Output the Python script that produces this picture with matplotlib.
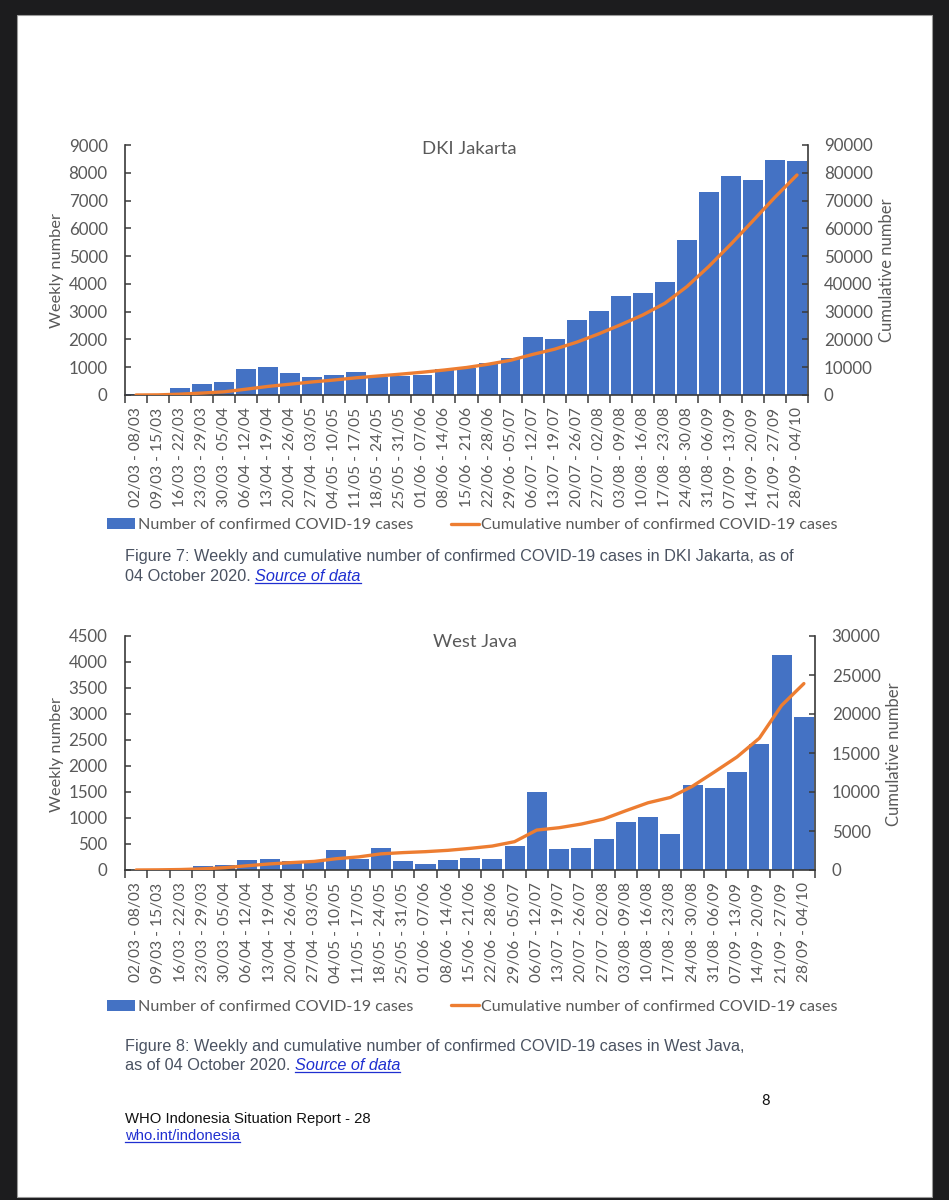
import numpy as np
import matplotlib
matplotlib.use("Agg")
import matplotlib.pyplot as plt
from matplotlib.patches import Rectangle
from matplotlib.lines import Line2D

# ---------------- data ----------------
weeks = ["02/03 - 08/03", "09/03 - 15/03", "16/03 - 22/03", "23/03 - 29/03", "30/03 - 05/04",
         "06/04 - 12/04", "13/04 - 19/04", "20/04 - 26/04", "27/04 - 03/05", "04/05 - 10/05",
         "11/05 - 17/05", "18/05 - 24/05", "25/05 - 31/05", "01/06 - 07/06", "08/06 - 14/06",
         "15/06 - 21/06", "22/06 - 28/06", "29/06 - 05/07", "06/07 - 12/07", "13/07 - 19/07",
         "20/07 - 26/07", "27/07 - 02/08", "03/08 - 09/08", "10/08 - 16/08", "17/08 - 23/08",
         "24/08 - 30/08", "31/08 - 06/09", "07/09 - 13/09", "14/09 - 20/09", "21/09 - 27/09",
         "28/09 - 04/10"]

jakarta_weekly = [20, 30, 240, 390, 450, 930, 1010, 800, 650, 720, 820, 650, 690, 710, 920,
                  970, 1160, 1320, 2090, 2020, 2700, 3010, 3570, 3660, 4060, 5570, 7290, 7880,
                  7730, 8470, 8410]
jakarta_cum = [0, 50, 300, 700, 1150, 2100, 3100, 3900, 4700, 5400, 6200, 6850, 7500, 8200,
               9000, 9900, 11100, 12500, 14600, 16500, 19000, 22000, 25300, 28800, 33000,
               39000, 46300, 54300, 62700, 71200, 79200]

wjava_weekly = [0, 5, 15, 77, 103, 194, 219, 180, 180, 380, 206, 432, 170, 110, 186, 230,
                218, 461, 1492, 403, 423, 589, 922, 1024, 685, 1632, 1581, 1876, 2430, 4130, 2945]
wjava_cum = [0, 20, 60, 150, 300, 550, 780, 950, 1100, 1450, 1680, 2070, 2230, 2350, 2520,
             2770, 3070, 3630, 5120, 5420, 5890, 6530, 7600, 8620, 9300, 10750, 12600, 14500,
             16900, 21100, 23900]

titles = ["DKI Jakarta", "West Java"]
left_label = "Weekly number"
right_label = "Cumulative number"
bar_legend = "Number of confirmed COVID-19 cases"
line_legend = "Cumulative number of confirmed COVID-19 cases"

# ---------------- style ----------------
W, H = 949, 1200
BLUE = "#4472C4"
ORANGE = "#ED7D31"
GREY = "#595959"
AXC = "#3a3a3a"
CAP = "#4a5261"
LINK = "#1f2fd0"
CHART_FONT = ["Lato", "DejaVu Sans"]
TEXT_FONT = ["Liberation Sans", "DejaVu Sans"]

plt.rcParams["font.family"] = CHART_FONT

fig = plt.figure(figsize=(W / 100, H / 100), dpi=100)
fig.patch.set_facecolor("#1c1c1e")


def fx(px):
    return px / W


def fy(py):
    return 1 - py / H


page = Rectangle((fx(17), fy(1197)), fx(932) - fx(17), fy(15) - fy(1197),
                 transform=fig.transFigure, facecolor="white", edgecolor="#9a9a9a",
                 lw=0.8, zorder=-10)
fig.patches.append(page)


def make_chart(box, title, weekly, cum, lmax, lstep, rmax, rstep, title_xy, llab_xy,
               rlab_xy, leg_y, pad_l, pad_r):
    x0, y0, x1, y1 = box
    ax = fig.add_axes([fx(x0), fy(y1), fx(x1) - fx(x0), fy(y0) - fy(y1)])
    ax.set_facecolor("none")
    n = len(weekly)
    x = np.arange(n)
    bars = ax.bar(x, weekly, width=0.9, color=BLUE, zorder=2, label=bar_legend)
    ax.set_xlim(-0.5, n - 0.5)
    ax.set_ylim(0, lmax)
    ax.set_yticks(np.arange(0, lmax + 1, lstep))
    ax.set_xticks(x)
    ax.set_xticklabels(weeks, rotation=90, fontsize=11.2, color=GREY, va="top", ha="center")
    ax.set_xticks(np.arange(-0.5, n, 1.0), minor=True)
    ax.tick_params(axis="x", which="major", length=0, pad=9)
    ax.tick_params(axis="x", which="minor", length=5.5, width=1.1, color=AXC, direction="out")
    ax.tick_params(axis="y", direction="in", length=4.5, width=1.1, color=AXC,
                   labelsize=12.2, labelcolor=GREY, pad=pad_l)
    for s in ("top", "right"):
        ax.spines[s].set_visible(False)
    for s in ("left", "bottom"):
        ax.spines[s].set_color(AXC)
        ax.spines[s].set_linewidth(1.2)

    ax2 = ax.twinx()
    line, = ax2.plot(x, cum, color=ORANGE, lw=2.4, solid_capstyle="round",
                     solid_joinstyle="round", label=line_legend, zorder=3)
    ax2.set_ylim(0, rmax)
    ax2.set_yticks(np.arange(0, rmax + 1, rstep))
    ax2.tick_params(axis="y", direction="in", length=4.5, width=1.1, color=AXC,
                    labelsize=12.2, labelcolor=GREY, pad=pad_r)
    for s in ("top", "left", "bottom"):
        ax2.spines[s].set_visible(False)
    ax2.spines["right"].set_color(AXC)
    ax2.spines["right"].set_linewidth(1.2)

    fig.text(fx(title_xy[0]), fy(title_xy[1]), title, ha="center", va="center",
             fontsize=13.3, color=GREY)
    fig.text(fx(llab_xy[0]), fy(llab_xy[1]), left_label, rotation=90, ha="center",
             va="center", fontsize=11.8, color=GREY)
    fig.text(fx(rlab_xy[0]), fy(rlab_xy[1]), right_label, rotation=90, ha="center",
             va="center", fontsize=12.0, color=GREY)

    leg = fig.legend(handles=[bars, line], labels=[bar_legend, line_legend],
                     loc="center left", bbox_to_anchor=(fx(107), fy(leg_y)),
                     bbox_transform=fig.transFigure, ncol=2, frameon=False,
                     fontsize=11.6, handlelength=1.75, handleheight=0.7,
                     handletextpad=0.15, columnspacing=2.35, borderpad=0, borderaxespad=0)
    for t in leg.get_texts():
        t.set_color(GREY)
    return ax, ax2


make_chart((125, 145, 808, 395), titles[0], jakarta_weekly, jakarta_cum, 9000, 1000,
           90000, 10000, (469, 149), (57, 270), (887, 270), 525, 12.5, 11.5)
make_chart((125, 636, 815, 870), titles[1], wjava_weekly, wjava_cum, 4500, 500,
           30000, 5000, (475, 642), (57, 754), (894, 754), 1007, 12.5, 12)

# ---------------- captions ----------------
renderer = fig.canvas.get_renderer()


def ftext(px, py, s, **kw):
    kw.setdefault("family", TEXT_FONT)
    kw.setdefault("va", "baseline")
    return fig.text(fx(px), fy(py), s, **kw)


def underline(t, py, color):
    bb = t.get_window_extent(renderer)
    fig.add_artist(Line2D([fx(bb.x0), fx(bb.x1)], [fy(py), fy(py)], transform=fig.transFigure,
                          color=color, lw=0.9))


def link_after(t, py, s, size):
    bb = t.get_window_extent(renderer)
    lk = ftext(bb.x1, py, s, fontsize=size, color=LINK, style="italic")
    underline(lk, py + 2.2, LINK)
    return lk


CS = 11.73
ftext(125, 561.5, "Figure 7: Weekly and cumulative number of confirmed COVID-19 cases in DKI Jakarta, as of",
      fontsize=CS, color=CAP)
t = ftext(125, 581, "04 October 2020. ", fontsize=CS, color=CAP)
link_after(t, 581, "Source of data", CS)

ftext(125, 1050.5, "Figure 8: Weekly and cumulative number of confirmed COVID-19 cases in West Java,",
      fontsize=CS, color=CAP)
t = ftext(125, 1069.5, "as of 04 October 2020. ", fontsize=CS, color=CAP)
link_after(t, 1069.5, "Source of data", CS)

ftext(125, 1123, "WHO Indonesia Situation Report - 28", fontsize=10.7, color="#111111")
w = ftext(125, 1140, "who.int/indonesia", fontsize=10.7, color=LINK)
underline(w, 1142, LINK)
ftext(766, 1105, "8", fontsize=10.5, color="#111111", ha="center", family=["Lato", "DejaVu Sans"])

fig.savefig("out.png", dpi=100, facecolor=fig.get_facecolor())
